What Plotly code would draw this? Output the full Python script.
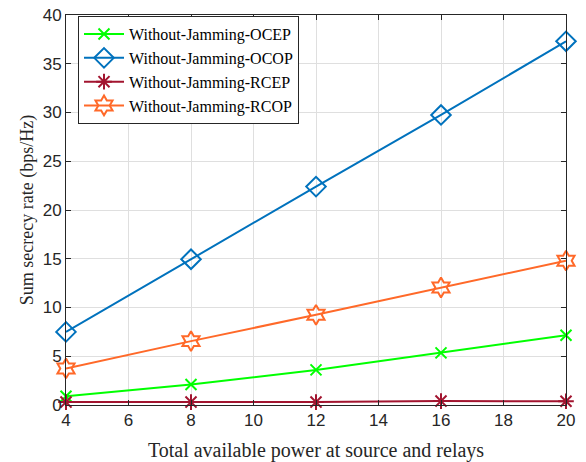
import plotly.graph_objects as go

x_power = [4, 8, 12, 16, 20]
ocep = [0.9, 2.1, 3.6, 5.35, 7.15]
ocop = [7.5, 14.95, 22.4, 29.75, 37.3]
rcep = [0.3, 0.3, 0.3, 0.4, 0.38]
rcop = [3.75, 6.55, 9.25, 12.05, 14.8]

names = ["Without-Jamming-OCEP", "Without-Jamming-OCOP", "Without-Jamming-RCEP", "Without-Jamming-RCOP"]
series = [ocep, ocop, rcep, rcop]
colors = ["#00FF00", "#0072BD", "#A2142F", "#FF6929"]
symbols = ["x-thin-open", "diamond-open", "asterisk-open", "hexagram-open"]
sizes = [11, 15, 13, 15]

fig = go.Figure()
for n, s, c, m, sz in zip(names, series, colors, symbols, sizes):
    fig.add_trace(go.Scatter(
        x=x_power, y=s, name=n, mode="lines+markers", cliponaxis=False,
        line=dict(color=c, width=2),
        marker=dict(symbol=m, size=sz, color=c, line=dict(color=c, width=2)),
    ))

axis_common = dict(
    showline=True, linecolor="#262626", linewidth=1, mirror="ticks",
    ticks="inside", ticklen=5, tickcolor="#262626",
    showgrid=True, gridcolor="#DFDFDF", gridwidth=1, zeroline=False,
    automargin=False,
    tickfont=dict(family="Liberation Sans, Arial", size=17, color="#262626"),
)
fig.update_xaxes(range=[4, 20], dtick=2,
                 title=dict(text="Total available power at source and relays",
                            font=dict(family="Liberation Serif, Times New Roman", size=20, color="#262626"),
                            standoff=13),
                 **axis_common)
fig.update_yaxes(range=[0, 40], dtick=5,
                 title=dict(text="Sum secrecy rate (bps/Hz)",
                            font=dict(family="Liberation Serif, Times New Roman", size=18, color="#262626"),
                            standoff=4),
                 **axis_common)
fig.update_layout(
    width=586, height=462,
    margin=dict(l=66, r=20, t=15, b=57, autoexpand=False),
    plot_bgcolor="white", paper_bgcolor="white",
    legend=dict(x=0.024, y=0.997, xanchor="left", yanchor="top",
                bgcolor="white", bordercolor="#262626", borderwidth=1,
                font=dict(family="Liberation Serif, Times New Roman", size=16, color="black"),
                tracegroupgap=0, itemwidth=40),
    showlegend=True,
)
fig.write_html("out.html", config={"displayModeBar": False},
               post_script="document.body.style.margin='0';document.body.style.padding='0';")
